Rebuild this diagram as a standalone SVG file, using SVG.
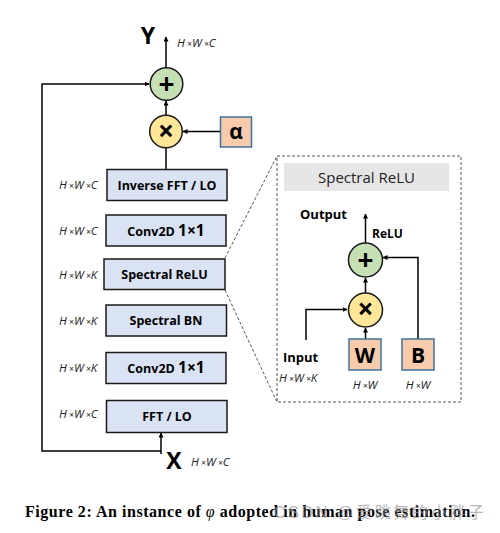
<svg xmlns="http://www.w3.org/2000/svg" width="500" height="533" viewBox="0 0 500 533">
<defs>
<marker id="ah" viewBox="0 0 10 10" refX="9" refY="5" markerWidth="5" markerHeight="5" orient="auto" markerUnits="userSpaceOnUse">
<path d="M0,0 L10,5 L0,10 z" fill="#000"/>
</marker>
<style>
.box{fill:#dae3f3;stroke:#1a1a1a;stroke-width:1.5}
.bl{font-family:"Open Sans","Noto Sans",sans-serif;font-weight:bold;font-size:12.5px;fill:#000;text-anchor:middle}
.dim{font-family:"Open Sans","Noto Sans",sans-serif;font-style:italic;font-size:11.5px;fill:#222}
.x{font-size:8.5px}
.pl{fill:#c5e0b4;stroke:#1a1a1a;stroke-width:1.5}
.ml{fill:#ffe699;stroke:#1a1a1a;stroke-width:1.5}
.pr{fill:#f8cbad;stroke:#41719c;stroke-width:1.5}
.op{font-family:"Open Sans","Noto Sans",sans-serif;font-weight:bold;font-size:28px;fill:#000;text-anchor:middle}
.lt{font-family:"Open Sans","Noto Sans",sans-serif;font-weight:bold;font-size:21px;fill:#000;text-anchor:middle}
.ln{fill:none;stroke:#000;stroke-width:1.5}
.dash{fill:none;stroke:#555;stroke-width:1;stroke-dasharray:3,2}
</style>
</defs>
<rect width="500" height="533" fill="#fff"/>

<g id="connectors">
<path class="ln" d="M166,68 V37" marker-end="url(#ah)"/>
<path class="ln" d="M166,115 V101" marker-end="url(#ah)"/>
<path class="ln" d="M220,131.5 H183" marker-end="url(#ah)"/>
<path class="ln" d="M166,169 V148"/>
<path class="ln" d="M161,451 H42 V84 H149" marker-end="url(#ah)"/>
<path class="ln" d="M161,454 V433" marker-end="url(#ah)"/>
<path class="dash" d="M225,258 L277,156"/>
<path class="dash" d="M225,290 L277,402"/>
<path class="ln" d="M365.5,243 V214" marker-end="url(#ah)"/>
<path class="ln" d="M365.5,293 V278" marker-end="url(#ah)"/>
<path class="ln" d="M306,340 V309.5 H347" marker-end="url(#ah)"/>
<path class="ln" d="M365.5,339 V328" marker-end="url(#ah)"/>
<path class="ln" d="M418,339 V257.5 H383" marker-end="url(#ah)"/>
</g>

<g id="Y">
<text x="148" y="44" font-family="Open Sans,Noto Sans,sans-serif" font-weight="bold" font-size="23" text-anchor="middle">Y</text>
<text class="dim" x="177" y="47">H<tspan class="x"> ×</tspan>W<tspan class="x"> ×</tspan>C</text>
</g>
<g id="plus"><circle class="pl" cx="166.5" cy="84" r="16.3"/><text class="op" x="166.5" y="93.5">+</text></g>
<g id="mult"><circle class="ml" cx="166" cy="131.5" r="16.3"/><text class="op" x="166" y="140.5">×</text></g>
<g id="alpha"><rect class="pr" x="220.5" y="117" width="31" height="30"/><text class="lt" x="236" y="139" font-size="20">α</text></g>

<g id="ifft"><rect class="box" x="107" y="169.5" width="120" height="31"/><text class="bl" x="167" y="189.5">Inverse FFT / LO</text>
<text class="dim" x="59" y="189">H<tspan class="x"> ×</tspan>W<tspan class="x"> ×</tspan>C</text></g>
<g id="conv1"><rect class="box" x="106" y="215" width="120" height="31"/><text class="bl" x="166" y="235.5">Conv2D <tspan font-size="15.5">1×1</tspan></text>
<text class="dim" x="59" y="235">H<tspan class="x"> ×</tspan>W<tspan class="x"> ×</tspan>C</text></g>
<g id="srelu"><rect class="box" x="104" y="259" width="121" height="30.5"/><text class="bl" x="164.5" y="279">Spectral ReLU</text>
<text class="dim" x="59" y="279">H<tspan class="x"> ×</tspan>W<tspan class="x"> ×</tspan>K</text></g>
<g id="sbn"><rect class="box" x="106" y="305" width="120.5" height="31"/><text class="bl" x="166" y="325">Spectral BN</text>
<text class="dim" x="59" y="325">H<tspan class="x"> ×</tspan>W<tspan class="x"> ×</tspan>K</text></g>
<g id="conv2"><rect class="box" x="106" y="352.5" width="120" height="31"/><text class="bl" x="166" y="373">Conv2D <tspan font-size="15.5">1×1</tspan></text>
<text class="dim" x="59" y="372">H<tspan class="x"> ×</tspan>W<tspan class="x"> ×</tspan>K</text></g>
<g id="fft"><rect class="box" x="106.5" y="400.5" width="120.5" height="32"/><text class="bl" x="167" y="421">FFT / LO</text>
<text class="dim" x="59" y="418">H<tspan class="x"> ×</tspan>W<tspan class="x"> ×</tspan>C</text></g>
<g id="X">
<text x="174" y="469" font-family="Open Sans,Noto Sans,sans-serif" font-weight="bold" font-size="23" text-anchor="middle">X</text>
<text class="dim" x="191" y="466">H<tspan class="x"> ×</tspan>W<tspan class="x"> ×</tspan>C</text>
</g>

<g id="panel">
<rect class="dash" x="277" y="156" width="184" height="246"/>
<rect x="284" y="163" width="165" height="28" fill="#e7e6e6"/>
<text x="366.5" y="183" font-family="Open Sans,Noto Sans,sans-serif" font-size="15" fill="#222" text-anchor="middle">Spectral ReLU</text>
</g>
<g id="output"><text x="300" y="219" font-family="Open Sans,Noto Sans,sans-serif" font-weight="bold" font-size="13">Output</text></g>
<g id="relu-label"><text x="372" y="238" font-family="Open Sans,Noto Sans,sans-serif" font-weight="bold" font-size="12">ReLU</text></g>
<g id="p-plus"><circle class="pl" cx="365.5" cy="260" r="17"/><text class="op" x="365.5" y="269.5">+</text></g>
<g id="p-mult"><circle class="ml" cx="365.5" cy="310" r="17"/><text class="op" x="365.5" y="319">×</text></g>
<g id="W"><rect class="pr" x="349" y="339" width="32" height="31"/><text class="lt" x="365" y="362.5">W</text>
<text class="dim" x="365" y="389" text-anchor="middle">H<tspan class="x"> ×</tspan>W</text></g>
<g id="B"><rect class="pr" x="402" y="339" width="32" height="31"/><text class="lt" x="418" y="362.5">B</text>
<text class="dim" x="418" y="389" text-anchor="middle">H<tspan class="x"> ×</tspan>W</text></g>
<g id="input"><text x="283" y="361.5" font-family="Open Sans,Noto Sans,sans-serif" font-weight="bold" font-size="13">Input</text>
<text class="dim" x="279" y="381.5">H<tspan class="x"> ×</tspan>W<tspan class="x"> ×</tspan>K</text></g>

<g id="caption">
<text x="25" y="517" font-family="Liberation Serif,serif" font-weight="bold" font-size="16" fill="#000" textLength="450" lengthAdjust="spacing">Figure 2: An instance of <tspan font-style="italic" font-weight="normal">φ</tspan> adopted in human pose estimation.</text>
<text x="274" y="518" font-family="Liberation Sans,Noto Sans CJK SC,sans-serif" font-size="16" fill="#999" fill-opacity="0.7" textLength="210" lengthAdjust="spacing">CSDN @爱跳舞的小胖子</text>
</g>
</svg>
